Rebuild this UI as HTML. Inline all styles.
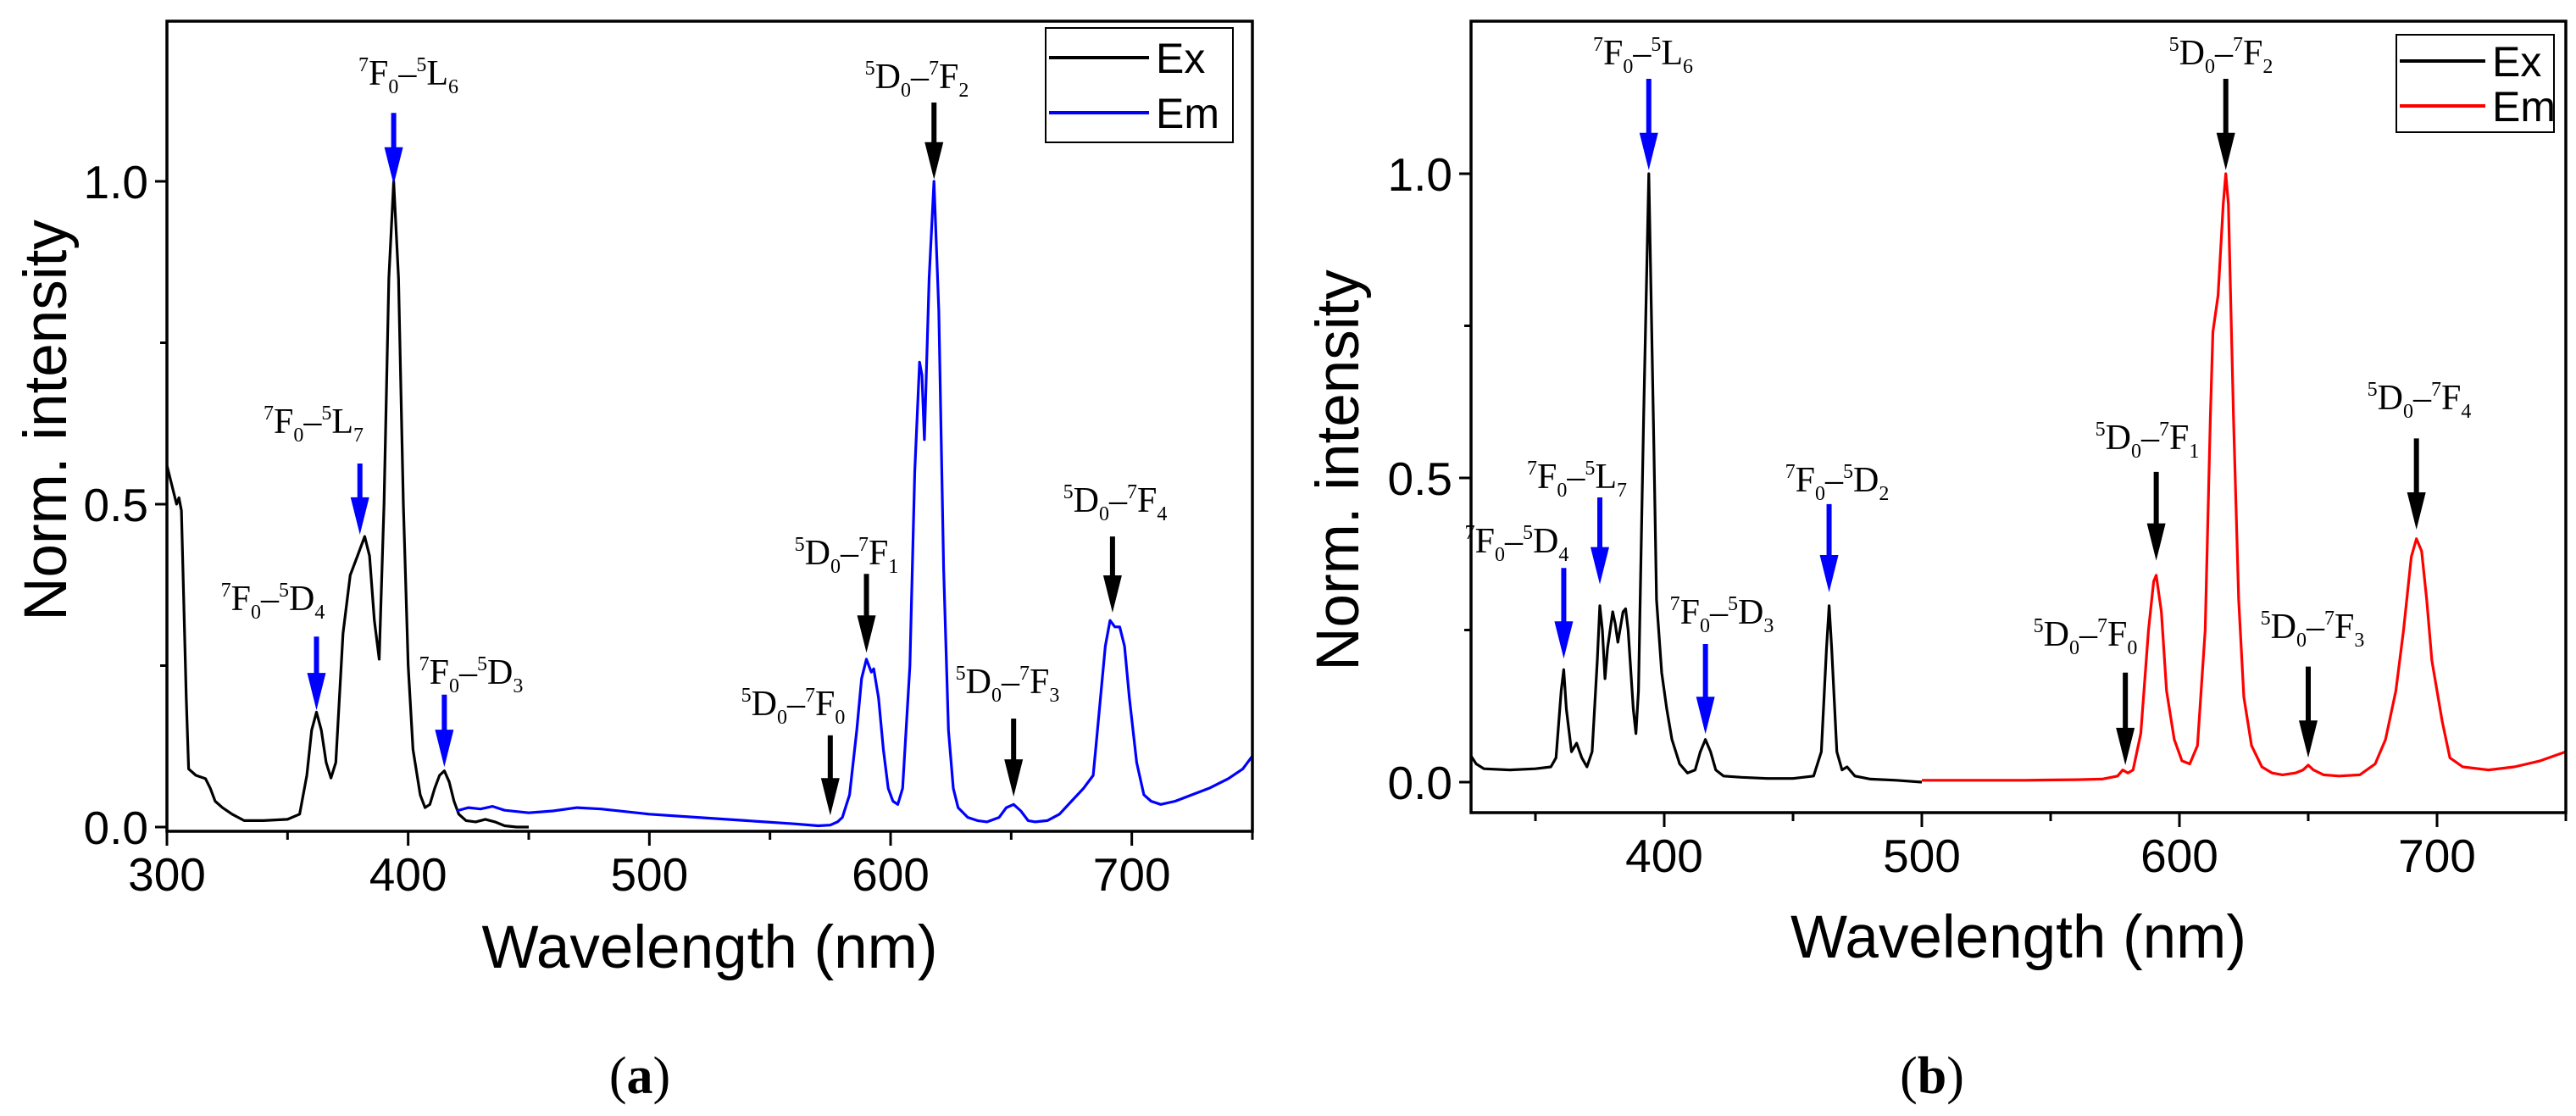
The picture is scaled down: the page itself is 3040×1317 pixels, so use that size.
<!DOCTYPE html>
<html><head><meta charset="utf-8"><style>
html,body{margin:0;padding:0;background:#fff;}
svg{display:block;}
text{font-family:"Liberation Sans",sans-serif;}
.lbl{font-family:"Liberation Serif",serif;}
</style></head><body>
<svg id="svg" width="3040" height="1317" viewBox="0 0 3040 1317" xmlns="http://www.w3.org/2000/svg"></svg>
<script>
// ---- Panel (a) data ----
const aExX=[300,302,304,305,306,308,309,312,316,318,320,323,327,332,340,350,355,358,360,362,364,366,368,370,373,376,379,382,384,386,388,390,392,394,396,398,400,402,405,407,409,411,413,415,417,419,421,424,428,432,436,440,445,450];
const aExY=[.56,.53,.50,.51,.49,.2,.09,.08,.075,.06,.04,.03,.02,.01,.01,.012,.02,.08,.15,.178,.15,.1,.076,.1,.3,.39,.42,.45,.42,.32,.26,.5,.85,1.0,.85,.5,.25,.12,.05,.03,.035,.06,.08,.087,.07,.04,.02,.01,.008,.012,.008,.002,0,0];
const aEmX=[420,425,430,435,440,450,460,470,480,500,520,540,560,570,575,578,580,583,586,588,590,592,593,595,597,599,601,603,605,608,610,612,613,614,616,618,620,622,624,626,628,632,636,640,645,648,651,654,657,660,665,670,675,680,684,685,687,689,691,693,695,697,699,702,705,708,712,718,725,732,740,746,750];
const aEmY=[.025,.03,.028,.032,.026,.022,.025,.03,.028,.02,.015,.01,.005,.002,.003,.008,.015,.05,.15,.23,.26,.24,.245,.2,.12,.06,.04,.035,.06,.25,.55,.72,.7,.6,.85,1.0,.8,.4,.15,.06,.03,.015,.01,.008,.015,.03,.035,.025,.01,.008,.01,.02,.04,.06,.08,.12,.2,.28,.32,.31,.31,.28,.2,.1,.05,.04,.035,.04,.05,.06,.075,.09,.11];
const aXTicks=[300,400,500,600,700];
const aYTicks=[0,0.5,1.0];
const aYTickLabels=["0.0","0.5","1.0"];
const aArrowX=[394,618,380,692,362,415,590,575,651];
const aArrowTop=[1.106,1.122,.563,.45,.295,.205,.392,.142,.168];
const aArrowTip=[.995,1.003,.453,.332,.181,.093,.27,.018,.047];
const aArrowCol=["#0000ff","#000","#0000ff","#000","#0000ff","#0000ff","#000","#000","#000"];
// ---- Panel (b) data ----
const bExX=[325,327,330,340,350,356,358,360,361,362,364,366,368,370,372,374,375,376,377,378,380,381,382,384,385,386,388,389,390,392,394,396,397,399,401,403,406,409,412,414,416,418,420,423,430,440,450,458,461,463,464,465,467,469,471,474,480,490,500];
const bExY=[.043,.03,.022,.02,.022,.025,.04,.15,.185,.12,.05,.064,.04,.025,.05,.2,.29,.25,.17,.22,.28,.26,.23,.28,.285,.25,.12,.08,.15,.6,1.0,.55,.3,.18,.12,.07,.03,.015,.02,.05,.07,.05,.02,.01,.008,.006,.006,.01,.05,.22,.29,.22,.05,.02,.025,.01,.005,.003,0];
const bEmX=[500,520,540,560,570,576,578,580,582,585,588,590,591,593,595,598,601,604,607,610,612,613,615,617,618,619,621,623,625,628,632,636,640,645,648,650,652,656,662,670,676,680,684,687,690,692,694,696,698,700,702,705,710,720,730,740,750];
const bEmY=[.003,.003,.003,.004,.005,.01,.02,.015,.02,.08,.25,.33,.34,.28,.15,.07,.035,.03,.06,.25,.6,.74,.8,.95,1.0,.95,.6,.3,.14,.06,.025,.015,.012,.015,.02,.028,.02,.012,.01,.012,.03,.07,.15,.25,.37,.4,.38,.3,.2,.15,.1,.04,.025,.02,.025,.035,.05];
const bXTicks=[400,500,600,700];
const bYTicks=[0,0.5,1.0];
const bYTickLabels=["0.0","0.5","1.0"];
const bArrowX=[394,618,692,591,375,464,361,416,579,650];
const bArrowTop=[1.156,1.156,.565,.51,.468,.457,.352,.227,.18,.19];
const bArrowTip=[1.006,1.006,.415,.364,.325,.312,.203,.079,.028,.04];
const bArrowCol=["#0000ff","#000","#000","#000","#0000ff","#0000ff","#0000ff","#0000ff","#000","#000"];

const NS="http://www.w3.org/2000/svg";
const svg=document.getElementById('svg');
function mk(tag,attrs,parent){const e=document.createElementNS(NS,tag);for(const k in attrs)e.setAttribute(k,attrs[k]);(parent||svg).appendChild(e);return e;}

function panel(p){
  const g=mk('g',{});
  
  
  const sx=v=>p.L+(v-p.xmin)/(p.xmax-p.xmin)*(p.R-p.L);
  const sy=v=>p.y0-v*p.ky;
  function line(xs,ys,col,nm){
    let d='';for(let i=0;i<xs.length;i++)d+=(i?'L':'M')+sx(xs[i]).toFixed(1)+','+sy(ys[i]).toFixed(1);
    const e=mk('path',{d:d,fill:'none',stroke:col,'stroke-width':3.2,'stroke-linejoin':'round'},g);
    
    
  }
  line(p.exX,p.exY,'#000','ex-series');
  line(p.emX,p.emY,p.emCol,'em-series');
  const fr=mk('rect',{x:p.L,y:p.T,width:p.R-p.L,height:p.B-p.T,fill:'none',stroke:'#000','stroke-width':3.5},g);
  
  
  for(let v=Math.ceil(p.xmin/50)*50;v<=p.xmax;v+=50){
    const major=v%100===0;
    mk('line',{x1:sx(v),x2:sx(v),y1:p.B,y2:p.B+(major?17:10),stroke:'#000','stroke-width':3},g);
  }
  p.xt.forEach(v=>{
    const t=mk('text',{x:sx(v),y:p.B+70,'text-anchor':'middle','font-size':55},g);
    t.textContent=v;
    
    
  });
  [0,0.25,0.5,0.75,1.0].forEach(v=>{
    const major=(v*2)%1===0;
    mk('line',{x1:p.L,x2:p.L-(major?14:8),y1:sy(v),y2:sy(v),stroke:'#000','stroke-width':3},g);
  });
  p.yt.forEach((v,i)=>{
    const t=mk('text',{x:p.L-22,y:sy(v)+20,'text-anchor':'end','font-size':55},g);
    t.textContent=p.ytl[i];
    
    
  });
  const xt=mk('text',{x:(p.L+p.R)/2,y:p.xtitleY,'text-anchor':'middle','font-size':71},g);
  xt.textContent='Wavelength (nm)';
  
  
  const yt=mk('text',{x:0,y:0,'text-anchor':'middle','font-size':71,transform:`translate(${p.ytitleX},${p.ytitleY}) rotate(-90)`},g);
  yt.textContent='Norm. intensity';
  
  
  p.arX.forEach((v,i)=>{
    const x=sx(v),yt0=sy(p.arTop[i]),ytip=sy(p.arTip[i]),hl=44,hw=11;
    const ag=mk('g',{},g);
    
    
    mk('line',{x1:x,x2:x,y1:yt0,y2:ytip-hl+2,stroke:p.arC[i],'stroke-width':6},ag);
    mk('path',{d:`M${x-hw},${ytip-hl}L${x+hw},${ytip-hl}L${x},${ytip}Z`,fill:p.arC[i]},ag);
  });
  p.labels.forEach(l=>{
    const t=mk('text',{class:'lbl',x:l[0],y:l[1],'text-anchor':'middle','font-size':42},g);
    
    
    const s=l[2];
    t.innerHTML=`<tspan font-size="24" dy="-16">${s[0]}</tspan><tspan dy="16">${s[1]}</tspan><tspan font-size="24" dy="10">${s[2]}</tspan><tspan dy="-10">–</tspan><tspan font-size="24" dy="-16">${s[3]}</tspan><tspan dy="16">${s[4]}</tspan><tspan font-size="24" dy="10">${s[5]}</tspan>`;
  });
  const lg=mk('g',{},g);
  
  
  const L=p.leg;
  mk('rect',{x:L[0],y:L[1],width:L[2],height:L[3],fill:'#fff',stroke:'#000','stroke-width':2},lg);
  [['Ex','#000',L[4]],['Em',p.emCol,L[5]]].forEach(e=>{
    mk('line',{x1:L[0]+4,x2:L[0]+L[6],y1:e[2],y2:e[2],stroke:e[1],'stroke-width':4},lg);
    const t=mk('text',{x:L[0]+L[6]+8,y:e[2]+18,'font-size':50},lg);
    t.textContent=e[0];
    
    
  });
  const cap=mk('text',{x:p.capX,y:1290,'text-anchor':'middle','font-size':62,class:'lbl'},g);
  cap.innerHTML='(<tspan font-weight="bold">'+p.cap+'</tspan>)';
  
  
}

panel({name:'panel-a',L:197,R:1478,T:25,B:981,xmin:300,xmax:750,y0:976,ky:762,
  exX:aExX,exY:aExY,emX:aEmX,emY:aEmY,emCol:'#0000ff',xt:aXTicks,yt:aYTicks,ytl:aYTickLabels,
  xtitleY:1142,ytitleX:78,ytitleY:496,arX:aArrowX,arTop:aArrowTop,arTip:aArrowTip,arC:aArrowCol,
  labels:[[482,100,'7F05L6'],[1082,104,'5D07F2'],[370,511,'7F05L7'],[1316,604,'5D07F4'],[322,720,'7F05D4'],[556,807,'7F05D3'],[999,666,'5D07F1'],[936,844,'5D07F0'],[1189,818,'5D07F3']],
  leg:[1234,33,221,135,68,133,122],cap:'a',capX:755});
panel({name:'panel-b',L:1736,R:3028,T:25,B:959,xmin:325,xmax:750,y0:923,ky:718,
  exX:bExX,exY:bExY,emX:bEmX,emY:bEmY,emCol:'#ff0000',xt:bXTicks,yt:bYTicks,ytl:bYTickLabels,
  xtitleY:1130,ytitleX:1603,ytitleY:555,arX:bArrowX,arTop:bArrowTop,arTip:bArrowTip,arC:bArrowCol,
  labels:[[1939,76,'7F05L6'],[2621,76,'5D07F2'],[2855,483,'5D07F4'],[2534,530,'5D07F1'],[1861,576,'7F05L7'],[2168,580,'7F05D2'],[1790,652,'7F05D4'],[2032,736,'7F05D3'],[2461,762,'5D07F0'],[2729,753,'5D07F3']],
  leg:[2828,41,186,115,72,125,105],cap:'b',capX:2280});
</script>
</body></html>
